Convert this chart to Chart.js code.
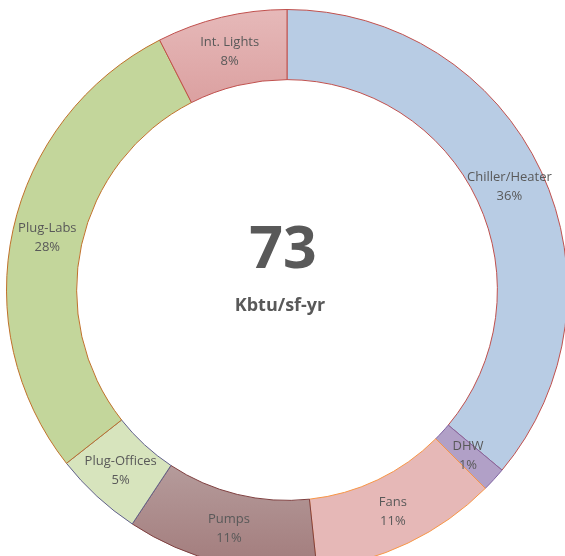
<!DOCTYPE html>
<html lang="en">
<head>
<meta charset="UTF-8">
<title>Energy use breakdown</title>
<script src="https://cdn.jsdelivr.net/npm/chart.js@4.4.1/dist/chart.umd.min.js"></script>
<style>
  html, body { margin: 0; padding: 0; background: #fff; overflow: hidden; width: 565px; height: 556px; }
  #wrap { position: absolute; left: 6px; top: 9px; }
</style>
</head>
<body>
<div id="wrap"><canvas id="eui" width="562" height="562"></canvas></div>
<script>
// slices, clockwise from 12 o'clock
const categories = ['Chiller/Heater', 'DHW', 'Fans', 'Pumps', 'Plug-Offices', 'Plug-Labs', 'Int. Lights'];
const shares = [36.1, 1.4, 10.8, 11.0, 5.1, 28.1, 7.5];
const totalEui = '73';
const euiUnit = 'Kbtu/sf-yr';

const fillColors = ['#b8cce4', '#b1a0c7', '#e6b8b7', null, '#d7e4bd', '#c3d69b', null];
const edgeColors = ['#c0504d', '#8064a2', '#f79646', '#7f3f3f', '#60608a', '#c0702a', '#c0504d'];

function shade(ctx, i) {
  const c = ctx.chart.ctx;
  if (i === 3) { // pumps, darker toward the bottom
    const g = c.createLinearGradient(0, 440, 0, 562);
    g.addColorStop(0, '#b8a0a0');
    g.addColorStop(1, '#a27b7b');
    return g;
  }
  if (i === 6) { // int. lights
    const g = c.createLinearGradient(0, 0, 0, 95);
    g.addColorStop(0, '#e6b9b9');
    g.addColorStop(1, '#dba0a0');
    return g;
  }
  return fillColors[i];
}

const sliceLabels = {
  id: 'sliceLabels',
  afterDatasetsDraw(chart) {
    const ctx = chart.ctx;
    const arcs = chart.getDatasetMeta(0).data;
    ctx.save();
    ctx.fillStyle = '#595959';
    ctx.textAlign = 'center';
    ctx.textBaseline = 'middle';
    ctx.font = '13px "Open Sans"';
    arcs.forEach((arc, i) => {
      const p = arc.getCenterPoint();
      ctx.fillText(categories[i], p.x, p.y - 9);
      ctx.fillText(Math.round(shares[i]) + '%', p.x, p.y + 10);
    });
    // total in the hole
    const cx = arcs[0].x, cy = arcs[0].y;
    ctx.font = 'bold 59px "Open Sans"';
    ctx.fillText(totalEui, cx - 4, cy - 39);
    ctx.textBaseline = 'alphabetic';
    ctx.font = 'bold 18px "Open Sans"';
    ctx.fillText(euiUnit, cx - 7, cy + 21);
    ctx.restore();
  }
};

new Chart(document.getElementById('eui'), {
  type: 'doughnut',
  data: {
    labels: categories,
    datasets: [{
      data: shares,
      backgroundColor: ctx => shade(ctx, ctx.dataIndex),
      borderColor: edgeColors,
      borderWidth: 1
    }]
  },
  options: {
    responsive: false,
    animation: false,
    cutout: '75%',
    plugins: {
      legend: { display: false },
      tooltip: { enabled: false }
    }
  },
  plugins: [sliceLabels]
});
</script>
</body>
</html>
